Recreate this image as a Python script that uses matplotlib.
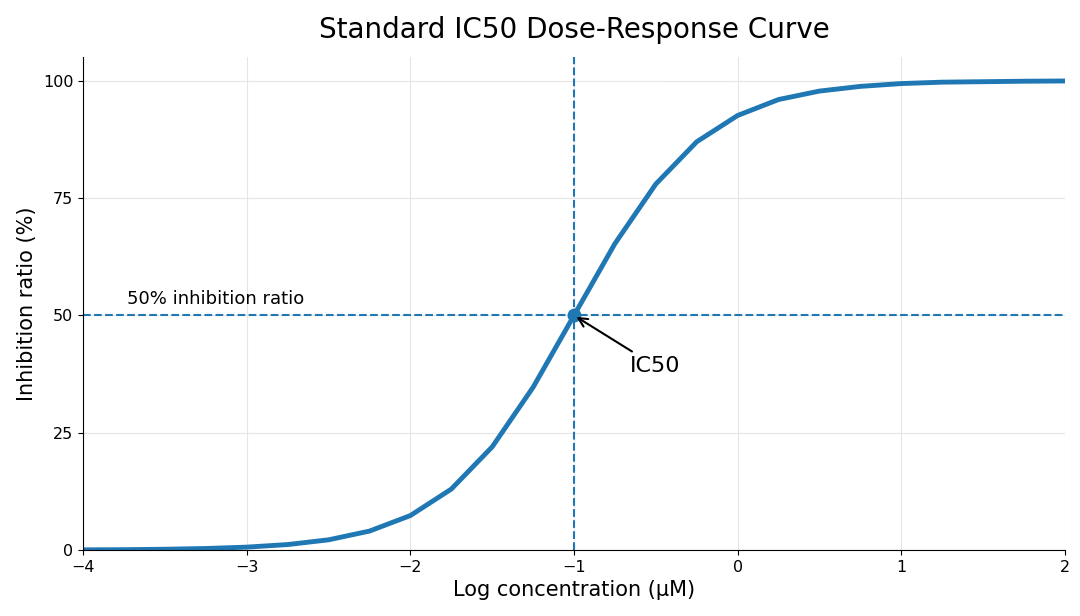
import matplotlib
matplotlib.use("Agg")
import matplotlib.pyplot as plt

log_conc = [-4.0, -3.75, -3.5, -3.25, -3.0, -2.75, -2.5, -2.25, -2.0, -1.75, -1.5, -1.25, -1.0,
            -0.75, -0.5, -0.25, 0.0, 0.25, 0.5, 0.75, 1.0, 1.25, 1.5, 1.75, 2.0]
inhibition = [0.05, 0.09, 0.18, 0.34, 0.63, 1.18, 2.19, 4.05, 7.36, 13.0, 22.0, 34.7, 50.0,
              65.3, 78.0, 87.0, 92.6, 96.0, 97.8, 98.8, 99.4, 99.7, 99.8, 99.9, 99.95]
ic50_x, ic50_y = -1.0, 50.0
xticks = [-4, -3, -2, -1, 0, 1, 2]
yticks = [0, 25, 50, 75, 100]
color = "#1f77b4"

fig = plt.figure(figsize=(10.8, 6.16), dpi=100)
ax = fig.add_axes([0.077, 0.107, 0.909, 0.8])
ax.plot(log_conc, inhibition, color=color, lw=3.5, solid_capstyle="round")
ax.axhline(ic50_y, color=color, ls="--", lw=1.5)
ax.axvline(ic50_x, color=color, ls="--", lw=1.5)
ax.plot([ic50_x], [ic50_y], "o", color=color, ms=9)
ax.text(-3.73, 52.5, "50% inhibition ratio", fontsize=13)
ax.annotate("IC50", xy=(ic50_x, ic50_y), xytext=(-0.66, 38), fontsize=16,
            arrowprops=dict(arrowstyle="->", color="black", lw=1.5))
ax.set_xlim(-4, 2)
ax.set_ylim(0, 105)
ax.set_xticks(xticks)
ax.set_xticklabels(["\u22124", "\u22123", "\u22122", "\u22121", "0", "1", "2"])
ax.set_yticks(yticks)
ax.tick_params(labelsize=11.5)
ax.grid(True, color="#e6e6e6", lw=0.8)
ax.set_axisbelow(True)
for s in ["top", "right"]:
    ax.spines[s].set_visible(False)
ax.set_xlabel("Log concentration (\u03bcM)", fontsize=15)
ax.set_ylabel("Inhibition ratio (%)", fontsize=15)
ax.set_title("Standard IC50 Dose-Response Curve", fontsize=20, pad=14)
fig.savefig("out.png", dpi=100)
